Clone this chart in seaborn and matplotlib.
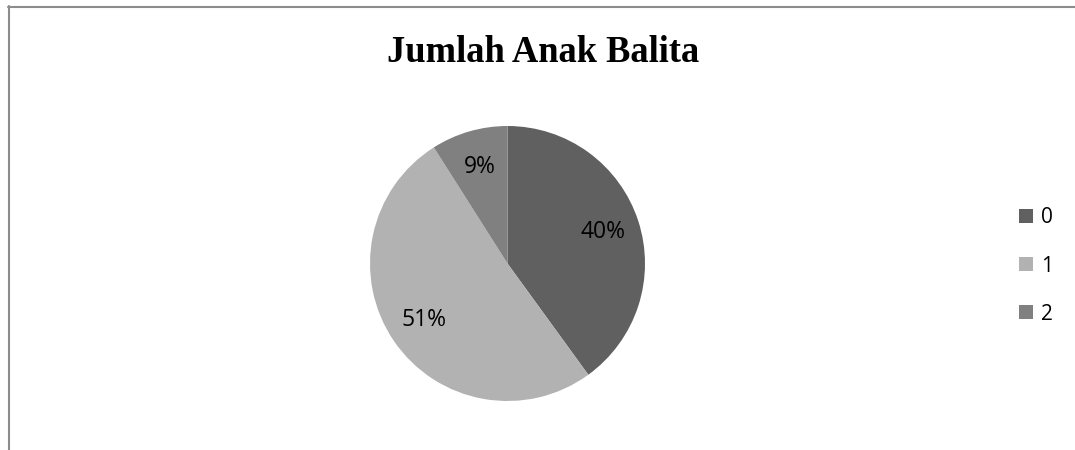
import matplotlib
matplotlib.use("Agg")
import matplotlib.pyplot as plt
from matplotlib.lines import Line2D
import seaborn as sns

# Data
categories = ["0", "1", "2"]
values = [40, 51, 9]
colors = ["#606060", "#b2b2b2", "#808080"]
title = "Jumlah Anak Balita"

sns.set_theme(style="white")
plt.rcParams["font.family"] = ["Open Sans", "DejaVu Sans"]
plt.rcParams["text.color"] = "black"

W, H = 1075, 450
fig = plt.figure(figsize=(W / 100, H / 100), dpi=100)
fig.patch.set_facecolor("white")

# Pie axes: centre (507.5, 263.5) px, radius 137.5 px
cx, cy, r = 507.5, 263.5, 137.5
ax = fig.add_axes([(cx - r) / W, (H - cy - r) / H, 2 * r / W, 2 * r / H])
wedges, texts, autotexts = ax.pie(
    values,
    colors=colors,
    startangle=90,
    counterclock=False,
    autopct="%1.0f%%",
    pctdistance=0.73,
    wedgeprops=dict(linewidth=0),
    textprops=dict(fontsize=16.5, color="black"),
)
ax.set_xlim(-1, 1)
ax.set_ylim(-1, 1)
ax.set_aspect("equal")
ax.axis("off")

# Title
fig.text(543.5 / W, 1 - 52 / H, title, ha="center", va="center",
         fontsize=26.3, fontweight="bold", family="Liberation Serif",
         color="black")

# Legend
leg = fig.legend(wedges, categories, loc="center left",
                 bbox_to_anchor=(1019 / W, 1 - 266 / H),
                 frameon=False, fontsize=15, borderpad=0, borderaxespad=0,
                 handlelength=0.68, handleheight=0.68, handletextpad=0.4,
                 labelspacing=1.3)
for t in leg.get_texts():
    t.set_color("black")

# Chart frame (top and left border)
lc = "#8c8c8c"
fig.add_artist(Line2D([8 / W, 1.0], [1 - 6.5 / H, 1 - 6.5 / H],
                      transform=fig.transFigure, color=lc, linewidth=1.5))
fig.add_artist(Line2D([8.5 / W, 8.5 / W], [0.0, 1 - 6 / H],
                      transform=fig.transFigure, color=lc, linewidth=1.5))

fig.savefig("out.png", dpi=100, facecolor="white")
